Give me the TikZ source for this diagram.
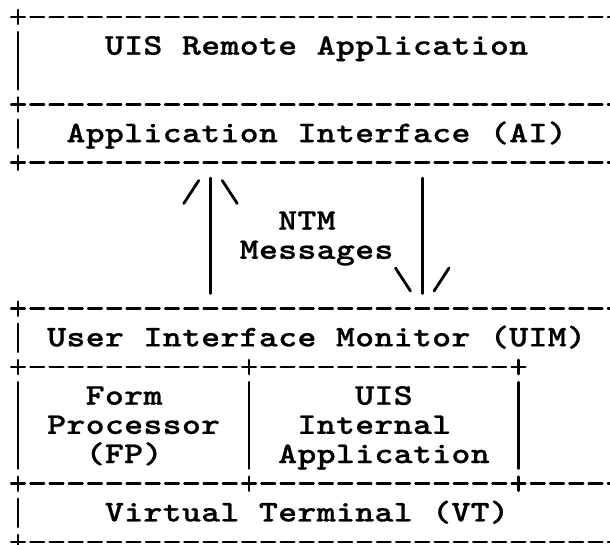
\documentclass[tikz,border=0pt]{standalone}
\usepackage{fontspec}
\newfontfamily\asciifont{lmmonolt10-bold}[Extension=.otf, FakeStretch=1.2, FakeBold=0.7]
\newlength\cw
\setlength\cw{19.25pt}
\def\gtloop#1{\ifx\relax#1\else\hbox to \cw{\hss#1\hss}\expandafter\gtloop\fi}
\newcommand\gridtxt[1]{\gtloop#1\relax}
\tikzset{
  declare function={cx(\c)=18+19.25*\c; ry(\r)=17+29.17*\r;},
  txt/.style={font=\asciifont\fontsize{30}{30}\selectfont, inner sep=0pt, anchor=base west, text=black},
  stroke/.style={line width=2.8pt, line cap=round, draw=black},
}
\newcommand\asciidash[3]{\foreach \c in {#2,...,#3}{\draw[stroke] ({cx(\c)-6.8},{ry(#1)}) -- ({cx(\c)+6.8},{ry(#1)});}}
\newcommand\asciicross[2]{\draw[stroke] ({cx(#2)-6.8},{ry(#1)}) -- ({cx(#2)+6.8},{ry(#1)}) ({cx(#2)},{ry(#1)-7}) -- ({cx(#2)},{ry(#1)+7});}
\newcommand\asciibar[3]{\draw[stroke] ({cx(#1)},{ry(#2)-14}) -- ({cx(#1)},{ry(#3)+14});}
\newcommand\asciislash[2]{\draw[stroke] ({cx(#1)-7.5},{ry(#2)+11.5}) -- ({cx(#1)+7.5},{ry(#2)-11.5});}
\newcommand\asciiback[2]{\draw[stroke] ({cx(#1)-7.5},{ry(#2)-11.5}) -- ({cx(#1)+7.5},{ry(#2)+11.5});}
\begin{document}
\begin{tikzpicture}[x=1pt,y=-1pt]
\useasboundingbox[fill=white] (0,0) rectangle (610,544);
\clip (0,0) rectangle (610,544);
% full-width borders
\foreach \r in {0,3,5,10,18}{\asciicross{\r}{0}\asciidash{\r}{1}{31}}
% row 12 and 16 borders
\asciicross{12}{0}\asciidash{12}{1}{11}\asciicross{12}{12}\asciidash{12}{13}{25}\asciicross{12}{26}
\asciicross{16}{0}\asciidash{16}{1}{11}\asciicross{16}{12}\asciidash{16}{13}{25}\asciicross{16}{26}\asciidash{16}{27}{31}
% vertical bars
\asciibar{0}{1}{2}
\asciibar{0}{4}{4}
\asciibar{0}{11}{11}
\asciibar{0}{13}{15}
\asciibar{12}{13}{15}
\asciibar{26}{13}{15}
\asciibar{0}{17}{17}
% NTM message arrows
\asciibar{10}{6}{9}
\asciibar{21}{6}{9}
\asciislash{9}{6}\asciiback{11}{6}
\asciiback{20}{9}\asciislash{22}{9}
% texts
\node[txt] (remote) at ({cx(5)-9.625},{ry(1)+8.5}) {\gridtxt{UIS~Remote~Application}};
\node[txt] (ai) at ({cx(3)-9.625},{ry(4)+8.5}) {\gridtxt{Application~Interface~(AI)}};
\node[txt] (ntm) at ({cx(14)-9.625},{ry(7)+8.5}) {\gridtxt{NTM}};
\node[txt] (msgs) at ({cx(12)-9.625},{ry(8)+8.5}) {\gridtxt{Messages}};
\node[txt] (uim) at ({cx(2)-9.625},{ry(11)+8.5}) {\gridtxt{User~Interface~Monitor~(UIM)}};
\node[txt] (fpa) at ({cx(4)-9.625},{ry(13)+8.5}) {\gridtxt{Form}};
\node[txt] (fpb) at ({cx(2)-9.625},{ry(14)+8.5}) {\gridtxt{Processor}};
\node[txt] (fpc) at ({cx(4)-9.625},{ry(15)+8.5}) {\gridtxt{(FP)}};
\node[txt] (uia) at ({cx(18)-9.625},{ry(13)+8.5}) {\gridtxt{UIS}};
\node[txt] (uib) at ({cx(15)-9.625},{ry(14)+8.5}) {\gridtxt{Internal}};
\node[txt] (uic) at ({cx(14)-9.625},{ry(15)+8.5}) {\gridtxt{Application}};
\node[txt] (vt) at ({cx(5)-9.625},{ry(17)+8.5}) {\gridtxt{Virtual~Terminal~(VT)}};
\end{tikzpicture}
\end{document}
